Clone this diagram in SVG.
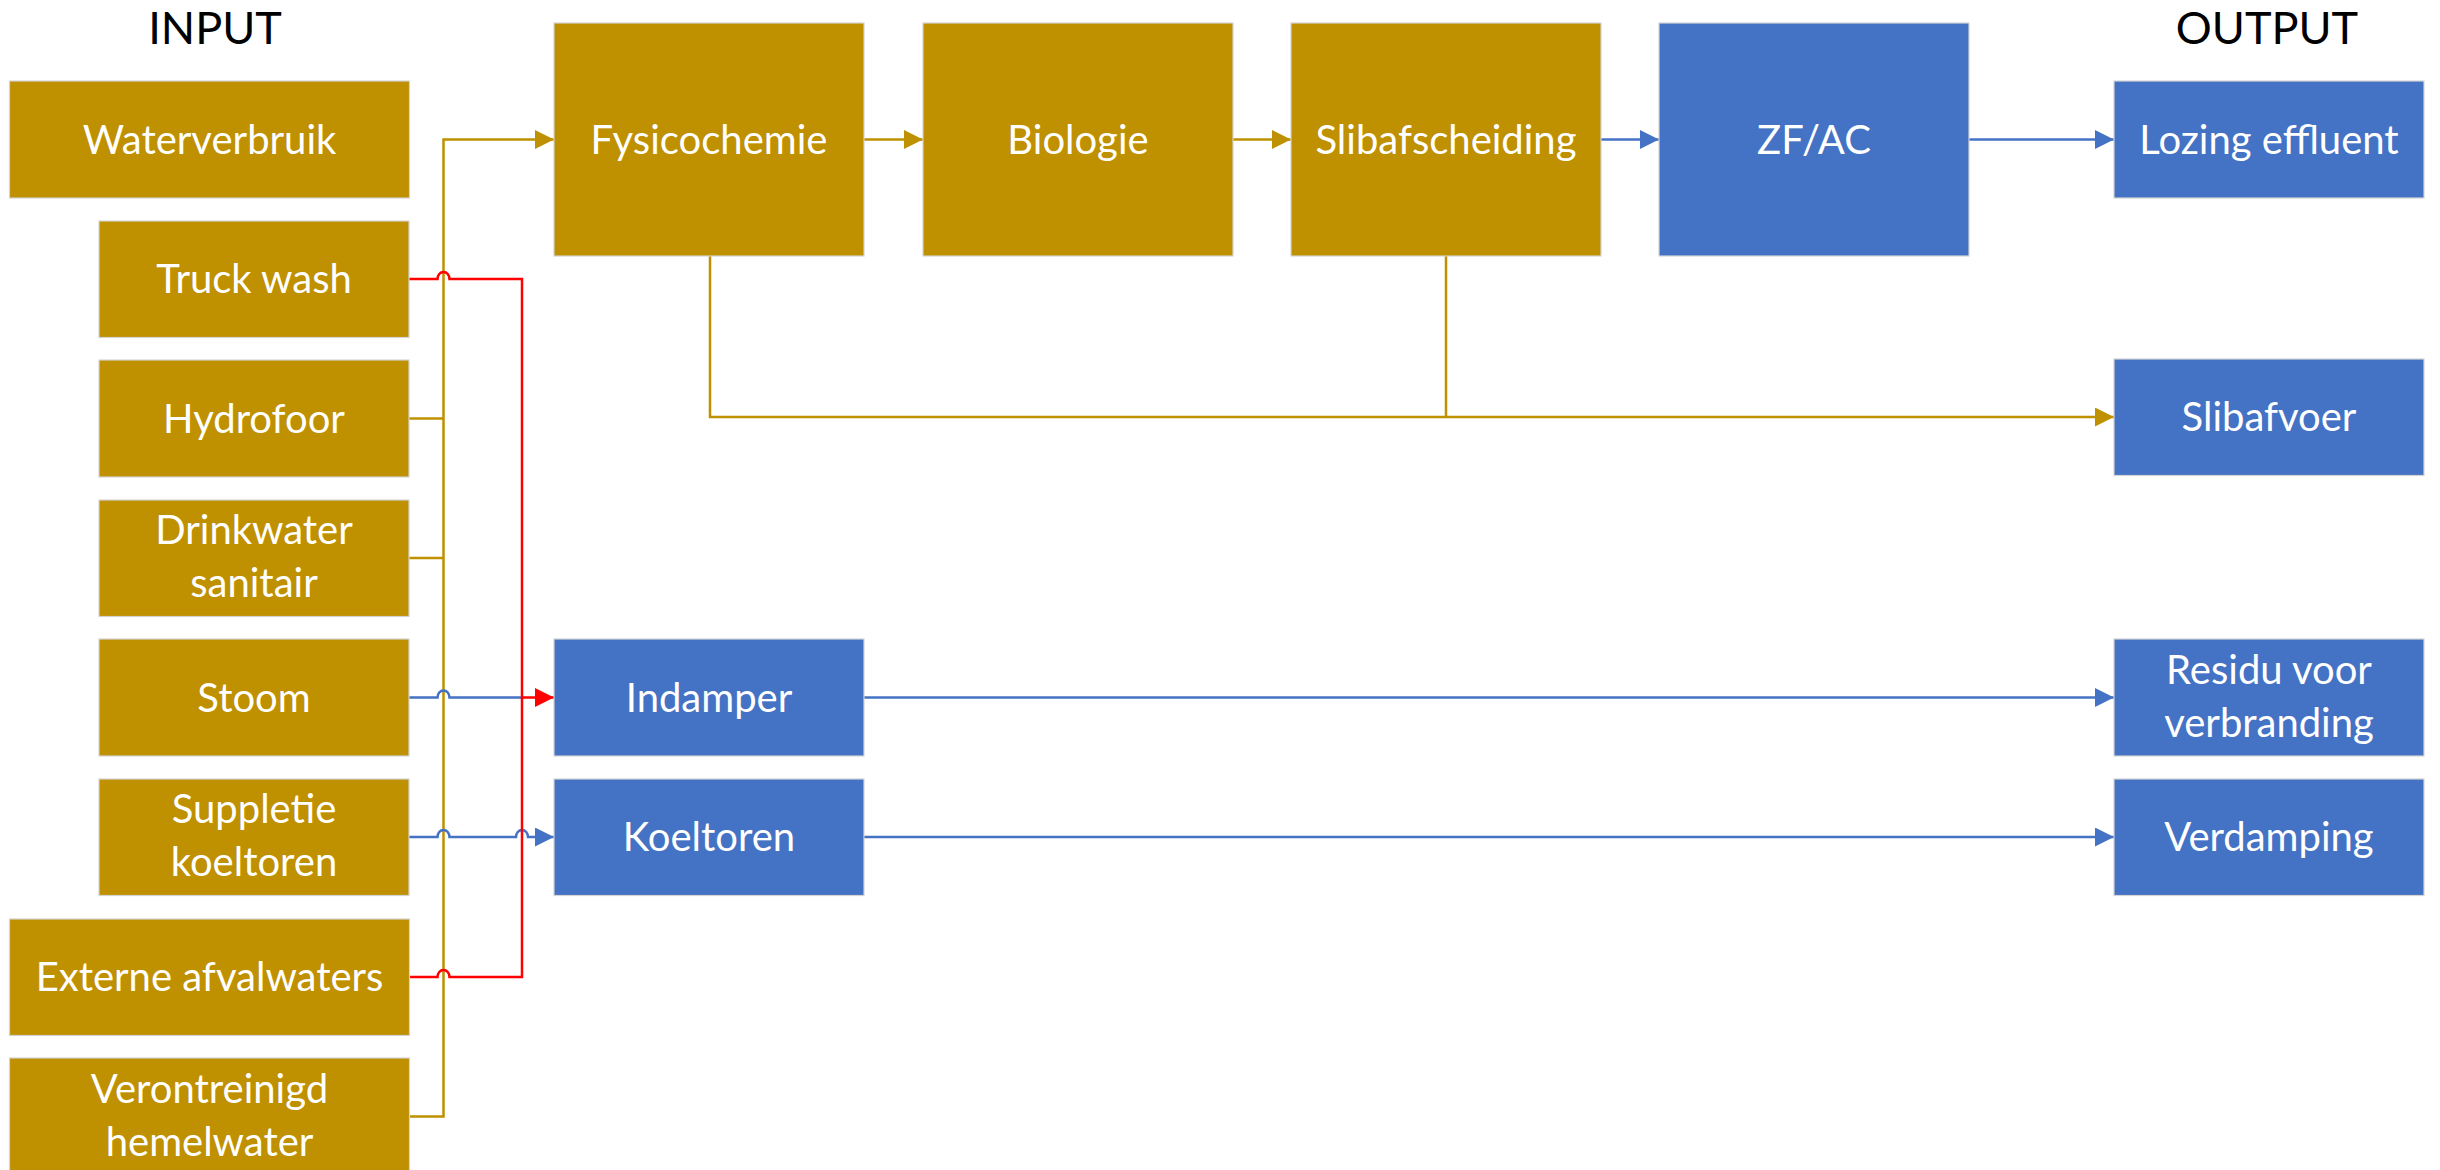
<svg xmlns="http://www.w3.org/2000/svg" width="2440" height="1170" viewBox="0 0 2440 1170">
  <style>
    .gold { fill: #BF9000; stroke: #d4d4d4; stroke-width: 1.2; }
    .blue { fill: #4472C4; stroke: #d4d4d4; stroke-width: 1.2; }
    .lbl { font-family: Lato, "Open Sans", "Liberation Sans", sans-serif; font-size: 40px; fill: #ffffff; text-anchor: middle; }
    .head { font-family: Lato, "Open Sans", "Liberation Sans", sans-serif; font-size: 45px; fill: #000000; text-anchor: middle; }
    .cg { fill: none; stroke: #BF9000; stroke-width: 2.5; }
    .cb { fill: none; stroke: #4472C4; stroke-width: 2.5; }
    .cr { fill: none; stroke: #FF0000; stroke-width: 2.5; }
  </style>
  <defs>
    <marker id="ag" markerUnits="userSpaceOnUse" markerWidth="19" markerHeight="19" refX="19" refY="9.5" orient="auto">
      <path d="M0,0 L19,9.5 L0,19 Z" fill="#BF9000"/>
    </marker>
    <marker id="ab" markerUnits="userSpaceOnUse" markerWidth="19" markerHeight="19" refX="19" refY="9.5" orient="auto">
      <path d="M0,0 L19,9.5 L0,19 Z" fill="#4472C4"/>
    </marker>
    <marker id="ar" markerUnits="userSpaceOnUse" markerWidth="19" markerHeight="19" refX="19" refY="9.5" orient="auto">
      <path d="M0,0 L19,9.5 L0,19 Z" fill="#FF0000"/>
    </marker>
  </defs>

  <rect width="2440" height="1170" fill="#ffffff"/>

  <text class="head" x="215" y="44">INPUT</text>
  <text class="head" x="2267" y="44">OUTPUT</text>

  <!-- connectors -->
  <g id="connectors">
    <!-- input collector into Fysicochemie -->
    <path class="cg" d="M409,418.5 H443.5"/>
    <path class="cg" d="M409,558 H443.5"/>
    <path class="cg" d="M409,1116.5 H443.5 V139.5 H554" marker-end="url(#ag)"/>
    <!-- main treatment line -->
    <path class="cg" d="M864,139.5 H923" marker-end="url(#ag)"/>
    <path class="cg" d="M1233,139.5 H1291" marker-end="url(#ag)"/>
    <path class="cb" d="M1601,139.5 H1659" marker-end="url(#ab)"/>
    <path class="cb" d="M1969,139.5 H2114" marker-end="url(#ab)"/>
    <!-- sludge discharge -->
    <path class="cg" d="M710,256 V417 H2114" marker-end="url(#ag)"/>
    <path class="cg" d="M1446,256 V417"/>
    <!-- steam and cooling tower make-up -->
    <path class="cb" d="M409,697.5 H437.5 a6,7 0 0 1 12,0 H523"/>
    <path class="cb" d="M409,837 H437.5 a6,7 0 0 1 12,0 H516 a6,7 0 0 1 12,0 H554" marker-end="url(#ab)"/>
    <!-- truck wash and external waste water to evaporator -->
    <path class="cr" d="M409,279 H437.5 a6,7 0 0 1 12,0 H522 V697.5 H554" marker-end="url(#ar)"/>
    <path class="cr" d="M409,977 H437.5 a6,7 0 0 1 12,0 H522 V697.5"/>
    <!-- outputs -->
    <path class="cb" d="M864,697.5 H2114" marker-end="url(#ab)"/>
    <path class="cb" d="M864,837 H2114" marker-end="url(#ab)"/>
  </g>

  <!-- input nodes -->
  <g id="waterverbruik">
    <rect class="gold" x="9.5" y="81" width="400" height="117"/>
    <text class="lbl" x="209.5" y="153.5">Waterverbruik</text>
  </g>
  <g id="truck-wash">
    <rect class="gold" x="99" y="221" width="310" height="116.5"/>
    <text class="lbl" x="254" y="293">Truck wash</text>
  </g>
  <g id="hydrofoor">
    <rect class="gold" x="99" y="360" width="310" height="117"/>
    <text class="lbl" x="254" y="432.5">Hydrofoor</text>
  </g>
  <g id="drinkwater-sanitair">
    <rect class="gold" x="99" y="500" width="310" height="116.5"/>
    <text class="lbl" x="254" y="544">Drinkwater</text>
    <text class="lbl" x="254" y="597">sanitair</text>
  </g>
  <g id="stoom">
    <rect class="gold" x="99" y="639" width="310" height="117"/>
    <text class="lbl" x="254" y="711.5">Stoom</text>
  </g>
  <g id="suppletie-koeltoren">
    <rect class="gold" x="99" y="779" width="310" height="116.5"/>
    <text class="lbl" x="254" y="823">Suppletie</text>
    <text class="lbl" x="254" y="876">koeltoren</text>
  </g>
  <g id="externe-afvalwaters">
    <rect class="gold" x="9.5" y="919" width="400" height="116.5"/>
    <text class="lbl" x="209.5" y="991">Externe afvalwaters</text>
  </g>
  <g id="verontreinigd-hemelwater">
    <rect class="gold" x="9.5" y="1058" width="400" height="117"/>
    <text class="lbl" x="209.5" y="1102.5">Verontreinigd</text>
    <text class="lbl" x="209.5" y="1155.5">hemelwater</text>
  </g>

  <!-- treatment nodes -->
  <g id="fysicochemie">
    <rect class="gold" x="554" y="23" width="310" height="233"/>
    <text class="lbl" x="709" y="153.5">Fysicochemie</text>
  </g>
  <g id="biologie">
    <rect class="gold" x="923" y="23" width="310" height="233"/>
    <text class="lbl" x="1078" y="153.5">Biologie</text>
  </g>
  <g id="slibafscheiding">
    <rect class="gold" x="1291" y="23" width="310" height="233"/>
    <text class="lbl" x="1446" y="153.5">Slibafscheiding</text>
  </g>
  <g id="zf-ac">
    <rect class="blue" x="1659" y="23" width="310" height="233"/>
    <text class="lbl" x="1814" y="153.5">ZF/AC</text>
  </g>
  <g id="indamper">
    <rect class="blue" x="554" y="639" width="310" height="117"/>
    <text class="lbl" x="709" y="711.5">Indamper</text>
  </g>
  <g id="koeltoren">
    <rect class="blue" x="554" y="779" width="310" height="116.5"/>
    <text class="lbl" x="709" y="851">Koeltoren</text>
  </g>

  <!-- output nodes -->
  <g id="lozing-effluent">
    <rect class="blue" x="2114" y="81" width="310" height="117"/>
    <text class="lbl" x="2269" y="153.5">Lozing effluent</text>
  </g>
  <g id="slibafvoer">
    <rect class="blue" x="2114" y="359" width="310" height="116.5"/>
    <text class="lbl" x="2269" y="431">Slibafvoer</text>
  </g>
  <g id="residu-voor-verbranding">
    <rect class="blue" x="2114" y="639" width="310" height="117"/>
    <text class="lbl" x="2269" y="684">Residu voor</text>
    <text class="lbl" x="2269" y="737">verbranding</text>
  </g>
  <g id="verdamping">
    <rect class="blue" x="2114" y="779" width="310" height="116.5"/>
    <text class="lbl" x="2269" y="851">Verdamping</text>
  </g>
</svg>
